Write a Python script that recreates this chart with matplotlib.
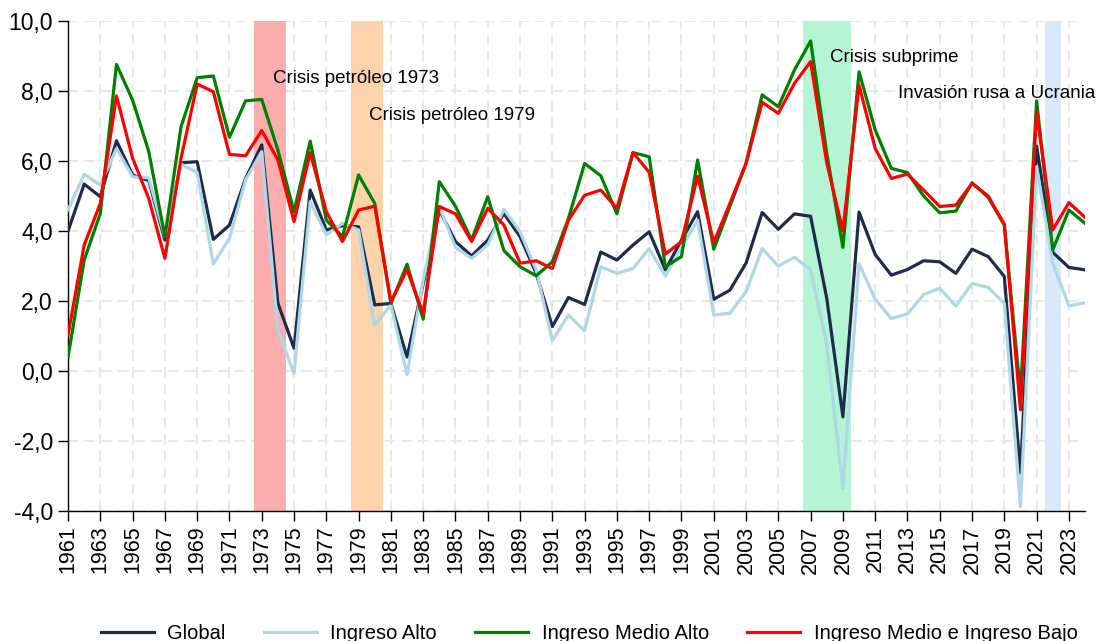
import matplotlib
matplotlib.use("Agg")
import matplotlib.pyplot as plt
from matplotlib.ticker import FuncFormatter, MultipleLocator

plt.rcParams['font.family'] = ['Liberation Sans', 'DejaVu Sans']

years = list(range(1961, 2025))

global_ = [4.0, 5.34, 4.98, 6.58, 5.6, 5.44, 3.74, 5.95, 5.98, 3.76,
           4.17, 5.5, 6.46, 1.94, 0.65, 5.17, 4.03, 4.15, 4.12, 1.89,
           1.93, 0.4, 2.5, 4.6, 3.7, 3.29, 3.74, 4.5, 3.84, 2.79,
           1.27, 2.1, 1.9, 3.4, 3.17, 3.6, 3.98, 2.89, 3.74, 4.55,
           2.05, 2.31, 3.08, 4.53, 4.05, 4.49, 4.42, 2.08, -1.31, 4.54,
           3.33, 2.74, 2.9, 3.15, 3.12, 2.79, 3.48, 3.27, 2.7, -2.92,
           6.43, 3.39, 2.96, 2.89]

alto = [4.6, 5.62, 5.31, 6.36, 5.55, 5.52, 3.84, 5.91, 5.67, 3.06,
        3.79, 5.46, 6.27, 1.17, -0.07, 4.84, 3.89, 4.22, 4.03, 1.31,
        1.89, -0.11, 2.6, 4.7, 3.53, 3.22, 3.6, 4.62, 3.98, 2.89,
        0.87, 1.6, 1.15, 2.98, 2.79, 2.93, 3.5, 2.71, 3.52, 4.31,
        1.6, 1.65, 2.27, 3.5, 3.0, 3.25, 2.89, 0.75, -3.35, 3.07,
        2.05, 1.5, 1.63, 2.19, 2.36, 1.86, 2.5, 2.39, 1.93, -3.88,
        5.84, 3.08, 1.86, 1.95]

medio_alto = [0.4, 3.17, 4.5, 8.76, 7.74, 6.27, 3.84, 6.98, 8.38, 8.43,
              6.68, 7.72, 7.76, 6.31, 4.55, 6.57, 4.31, 3.84, 5.6, 4.79,
              1.93, 3.05, 1.48, 5.41, 4.71, 3.74, 4.98, 3.44, 2.98, 2.72,
              3.12, 4.36, 5.93, 5.58, 4.49, 6.24, 6.12, 2.98, 3.27, 6.03,
              3.48, 4.7, 5.93, 7.89, 7.55, 8.6, 9.43, 6.22, 3.53, 8.55,
              6.89, 5.79, 5.67, 5.0, 4.52, 4.57, 5.38, 4.96, 4.17, -0.64,
              7.72, 3.46, 4.6, 4.22]

medio_bajo = [1.03, 3.6, 4.79, 7.86, 6.08, 4.93, 3.22, 6.08, 8.2, 7.98,
              6.19, 6.15, 6.87, 6.03, 4.27, 6.24, 4.55, 3.7, 4.6, 4.71,
              1.98, 2.89, 1.64, 4.7, 4.49, 3.7, 4.65, 4.17, 3.08, 3.15,
              2.93, 4.31, 5.02, 5.17, 4.65, 6.24, 5.68, 3.34, 3.7, 5.57,
              3.67, 4.79, 5.93, 7.68, 7.36, 8.22, 8.84, 5.95, 4.0, 8.17,
              6.36, 5.5, 5.63, 5.17, 4.7, 4.74, 5.36, 5.0, 4.19, -1.11,
              7.41, 4.03, 4.81, 4.39]

series_labels = ["Global", "Ingreso Alto", "Ingreso Medio Alto", "Ingreso Medio e Ingreso Bajo"]
series_colors = ["#1f2b4d", "#add8e6", "#008000", "#ff0000"]

crisis_spans = [(1972.5, 1974.5), (1978.5, 1980.5), (2006.5, 2009.5), (2021.5, 2022.5)]
crisis_colors = ["#fcaeae", "#fdd3ab", "#b5f5d3", "#d6eaf8"]
crisis_labels = ["Crisis petróleo 1973", "Crisis petróleo 1979", "Crisis subprime", "Invasión rusa a Ucrania"]
crisis_label_pos = [(1973.7, 8.37), (1979.65, 7.29), (2008.2, 8.97), (2012.4, 7.94)]

fig = plt.figure(figsize=(11.01, 6.41), dpi=100)
ax = fig.add_axes([0.0618, 0.2028, 0.9237, 0.7644])

for (a, b), c in zip(crisis_spans, crisis_colors):
    ax.axvspan(a, b, color=c, lw=0, zorder=1)

ax.grid(True, color="#e8e8e8", linestyle=(0, (5, 3)), linewidth=1.5, zorder=0)

for data, lab, col in zip([global_, alto, medio_alto, medio_bajo], series_labels, series_colors):
    ax.plot(years, data, color=col, lw=2.3, label=lab, zorder=3)

for txt, (x, y) in zip(crisis_labels, crisis_label_pos):
    ax.text(x, y, txt, fontsize=13.5, ha="left", va="center", zorder=4)

ax.set_xlim(1961, 2024)
ax.set_ylim(-4, 10)
ax.set_xticks(list(range(1961, 2024, 2)))
ax.tick_params(axis="x", labelrotation=90, labelsize=15.5, length=7, width=1)
ax.tick_params(axis="y", labelsize=16.5, length=7, width=1, pad=4)
ax.yaxis.set_major_locator(MultipleLocator(2))
ax.yaxis.set_major_formatter(FuncFormatter(lambda v, p: f"{v:.1f}".replace(".", ",")))
for s in ["top", "right"]:
    ax.spines[s].set_visible(False)
for s in ["left", "bottom"]:
    ax.spines[s].set_linewidth(1)
ax.set_axisbelow(True)

handles, labels = ax.get_legend_handles_labels()
fig.legend(handles, labels, loc="center", bbox_to_anchor=(0.535, 0.012), ncol=4,
           frameon=False, fontsize=14.5, handlelength=2.65, handletextpad=0.65,
           columnspacing=1.9)

fig.savefig("out.png", dpi=100)
